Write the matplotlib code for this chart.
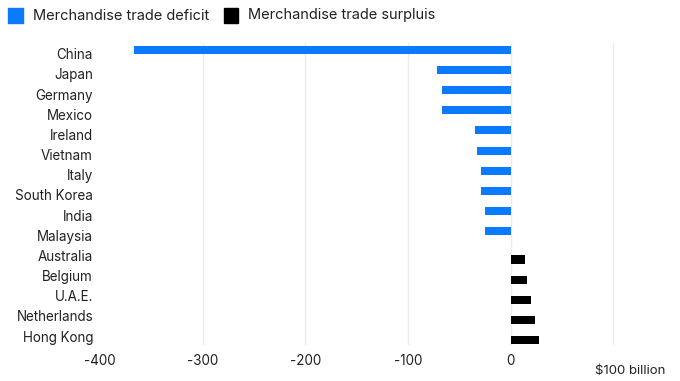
import matplotlib
matplotlib.use("Agg")
import matplotlib.pyplot as plt
import matplotlib.transforms as mtransforms
import numpy as np

plt.rcParams['font.family'] = ['Inter', 'DejaVu Sans']

countries = ['China', 'Japan', 'Germany', 'Mexico', 'Ireland', 'Vietnam', 'Italy',
             'South Korea', 'India', 'Malaysia', 'Australia', 'Belgium', 'U.A.E.',
             'Netherlands', 'Hong Kong']
deficit = [-367, -72, -67, -67, -35, -33, -29, -29, -25, -25, 0, 0, 0, 0, 0]
surplus = [0, 0, 0, 0, 0, 0, 0, 0, 0, 0, 14, 16, 20, 24, 28]
xticks = [-400, -300, -200, -100, 0]

blue = '#0A7BFF'
txt = '#222222'

fig = plt.figure(figsize=(6.8, 3.81), dpi=100)
ax = fig.add_axes([0.147, 0.094, 0.853, 0.793])

y = np.arange(len(countries))
h = 0.4
ax.barh(y - h / 2, deficit, height=h, color=blue, zorder=3)
ax.barh(y + h / 2, surplus, height=h, color='black', zorder=3)

ax.set_ylim(len(countries) - 0.55, -0.53)
ax.set_xlim(-400, 165)
ax.set_yticks(y)
ax.set_yticklabels(countries, fontsize=9.7, color=txt)
ax.set_xticks(xticks)
ax.set_xticklabels([str(t) for t in xticks], fontsize=9.7, color=txt)
ax.tick_params(length=0, pad=5)
ax.tick_params(axis='x', pad=6)

for gx in [-300, -200, -100, 0, 100]:
    ax.axvline(gx, color='#ebebeb', lw=0.9, zorder=1)

for s in ax.spines.values():
    s.set_visible(False)

trans = mtransforms.blended_transform_factory(ax.transData, ax.transAxes)
ax.text(116, -0.065, '$100 billion', transform=trans, ha='center', va='top',
        fontsize=9.5, color=txt)

# legend
fig.patches.append(plt.Rectangle((8 / 680, 1 - 23 / 381), 15 / 680, 15 / 381,
                                 transform=fig.transFigure, color=blue))
fig.text(33 / 680, 1 - 15.5 / 381, 'Merchandise trade deficit', fontsize=10.5,
         va='center', color=txt)
fig.patches.append(plt.Rectangle((224 / 680, 1 - 23 / 381), 14 / 680, 15 / 381,
                                 transform=fig.transFigure, color='black'))
fig.text(248 / 680, 1 - 15.5 / 381, 'Merchandise trade surpluis', fontsize=10.5,
         va='center', color=txt)

fig.savefig('out.png', dpi=100)
